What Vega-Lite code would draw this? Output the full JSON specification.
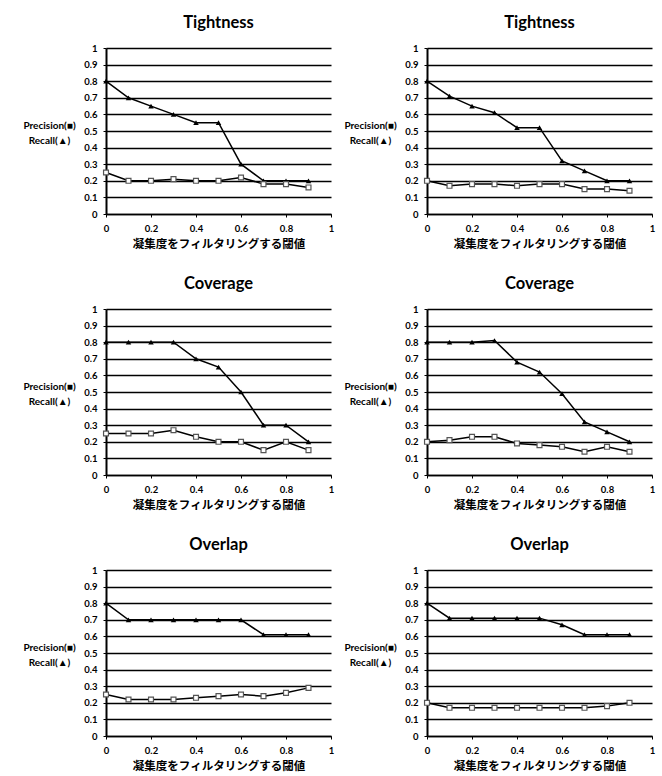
{
  "$schema": "https://vega.github.io/schema/vega-lite/v6.json",
  "background": "white",
  "padding": {"left": 22, "top": 14, "right": 5, "bottom": 5},
  "bounds": "flush",
  "columns": 2,
  "spacing": {"row": 95, "column": 96},
  "config": {
    "view": {"stroke": null},
    "font": "Lato",
    "title": {"font": "Lato", "fontSize": 16.5, "fontWeight": "bold", "color": "black", "offset": 12, "anchor": "middle"},
    "axis": {
      "labelFont": "Lato", "labelFontSize": 9.5, "labelFontWeight": "bold", "labelColor": "black",
      "domainColor": "black", "tickColor": "black", "tickSize": 3, "labelFlush": false,
      "titleColor": "black"
    },
    "axisX": {"grid": false, "domainWidth": 1.5, "labelPadding": 6, "titleFont": "Noto Sans CJK JP", "titleFontSize": 11.5, "titleFontWeight": "bold", "titlePadding": 6},
    "axisY": {"grid": true, "gridColor": "black", "gridWidth": 1.3, "domainWidth": 2, "labelPadding": 6, "titleFont": "Lato", "titleFontSize": 10, "titleFontWeight": "bold"}
  },
  "data": {"values": [
    {"p": "T1", "x": 0, "m": "Recall", "v": 0.8}, {"p": "T1", "x": 0.1, "m": "Recall", "v": 0.7}, {"p": "T1", "x": 0.2, "m": "Recall", "v": 0.65}, {"p": "T1", "x": 0.3, "m": "Recall", "v": 0.6}, {"p": "T1", "x": 0.4, "m": "Recall", "v": 0.55}, {"p": "T1", "x": 0.5, "m": "Recall", "v": 0.55}, {"p": "T1", "x": 0.6, "m": "Recall", "v": 0.3}, {"p": "T1", "x": 0.7, "m": "Recall", "v": 0.2}, {"p": "T1", "x": 0.8, "m": "Recall", "v": 0.2}, {"p": "T1", "x": 0.9, "m": "Recall", "v": 0.2},
    {"p": "T1", "x": 0, "m": "Precision", "v": 0.25}, {"p": "T1", "x": 0.1, "m": "Precision", "v": 0.2}, {"p": "T1", "x": 0.2, "m": "Precision", "v": 0.2}, {"p": "T1", "x": 0.3, "m": "Precision", "v": 0.21}, {"p": "T1", "x": 0.4, "m": "Precision", "v": 0.2}, {"p": "T1", "x": 0.5, "m": "Precision", "v": 0.2}, {"p": "T1", "x": 0.6, "m": "Precision", "v": 0.22}, {"p": "T1", "x": 0.7, "m": "Precision", "v": 0.18}, {"p": "T1", "x": 0.8, "m": "Precision", "v": 0.18}, {"p": "T1", "x": 0.9, "m": "Precision", "v": 0.16},
    {"p": "T2", "x": 0, "m": "Recall", "v": 0.8}, {"p": "T2", "x": 0.1, "m": "Recall", "v": 0.71}, {"p": "T2", "x": 0.2, "m": "Recall", "v": 0.65}, {"p": "T2", "x": 0.3, "m": "Recall", "v": 0.61}, {"p": "T2", "x": 0.4, "m": "Recall", "v": 0.52}, {"p": "T2", "x": 0.5, "m": "Recall", "v": 0.52}, {"p": "T2", "x": 0.6, "m": "Recall", "v": 0.32}, {"p": "T2", "x": 0.7, "m": "Recall", "v": 0.26}, {"p": "T2", "x": 0.8, "m": "Recall", "v": 0.2}, {"p": "T2", "x": 0.9, "m": "Recall", "v": 0.2},
    {"p": "T2", "x": 0, "m": "Precision", "v": 0.2}, {"p": "T2", "x": 0.1, "m": "Precision", "v": 0.17}, {"p": "T2", "x": 0.2, "m": "Precision", "v": 0.18}, {"p": "T2", "x": 0.3, "m": "Precision", "v": 0.18}, {"p": "T2", "x": 0.4, "m": "Precision", "v": 0.17}, {"p": "T2", "x": 0.5, "m": "Precision", "v": 0.18}, {"p": "T2", "x": 0.6, "m": "Precision", "v": 0.18}, {"p": "T2", "x": 0.7, "m": "Precision", "v": 0.15}, {"p": "T2", "x": 0.8, "m": "Precision", "v": 0.15}, {"p": "T2", "x": 0.9, "m": "Precision", "v": 0.14},
    {"p": "C1", "x": 0, "m": "Recall", "v": 0.8}, {"p": "C1", "x": 0.1, "m": "Recall", "v": 0.8}, {"p": "C1", "x": 0.2, "m": "Recall", "v": 0.8}, {"p": "C1", "x": 0.3, "m": "Recall", "v": 0.8}, {"p": "C1", "x": 0.4, "m": "Recall", "v": 0.7}, {"p": "C1", "x": 0.5, "m": "Recall", "v": 0.65}, {"p": "C1", "x": 0.6, "m": "Recall", "v": 0.5}, {"p": "C1", "x": 0.7, "m": "Recall", "v": 0.3}, {"p": "C1", "x": 0.8, "m": "Recall", "v": 0.3}, {"p": "C1", "x": 0.9, "m": "Recall", "v": 0.2},
    {"p": "C1", "x": 0, "m": "Precision", "v": 0.25}, {"p": "C1", "x": 0.1, "m": "Precision", "v": 0.25}, {"p": "C1", "x": 0.2, "m": "Precision", "v": 0.25}, {"p": "C1", "x": 0.3, "m": "Precision", "v": 0.27}, {"p": "C1", "x": 0.4, "m": "Precision", "v": 0.23}, {"p": "C1", "x": 0.5, "m": "Precision", "v": 0.2}, {"p": "C1", "x": 0.6, "m": "Precision", "v": 0.2}, {"p": "C1", "x": 0.7, "m": "Precision", "v": 0.15}, {"p": "C1", "x": 0.8, "m": "Precision", "v": 0.2}, {"p": "C1", "x": 0.9, "m": "Precision", "v": 0.15},
    {"p": "C2", "x": 0, "m": "Recall", "v": 0.8}, {"p": "C2", "x": 0.1, "m": "Recall", "v": 0.8}, {"p": "C2", "x": 0.2, "m": "Recall", "v": 0.8}, {"p": "C2", "x": 0.3, "m": "Recall", "v": 0.81}, {"p": "C2", "x": 0.4, "m": "Recall", "v": 0.68}, {"p": "C2", "x": 0.5, "m": "Recall", "v": 0.62}, {"p": "C2", "x": 0.6, "m": "Recall", "v": 0.49}, {"p": "C2", "x": 0.7, "m": "Recall", "v": 0.32}, {"p": "C2", "x": 0.8, "m": "Recall", "v": 0.26}, {"p": "C2", "x": 0.9, "m": "Recall", "v": 0.2},
    {"p": "C2", "x": 0, "m": "Precision", "v": 0.2}, {"p": "C2", "x": 0.1, "m": "Precision", "v": 0.21}, {"p": "C2", "x": 0.2, "m": "Precision", "v": 0.23}, {"p": "C2", "x": 0.3, "m": "Precision", "v": 0.23}, {"p": "C2", "x": 0.4, "m": "Precision", "v": 0.19}, {"p": "C2", "x": 0.5, "m": "Precision", "v": 0.18}, {"p": "C2", "x": 0.6, "m": "Precision", "v": 0.17}, {"p": "C2", "x": 0.7, "m": "Precision", "v": 0.14}, {"p": "C2", "x": 0.8, "m": "Precision", "v": 0.17}, {"p": "C2", "x": 0.9, "m": "Precision", "v": 0.14},
    {"p": "O1", "x": 0, "m": "Recall", "v": 0.8}, {"p": "O1", "x": 0.1, "m": "Recall", "v": 0.7}, {"p": "O1", "x": 0.2, "m": "Recall", "v": 0.7}, {"p": "O1", "x": 0.3, "m": "Recall", "v": 0.7}, {"p": "O1", "x": 0.4, "m": "Recall", "v": 0.7}, {"p": "O1", "x": 0.5, "m": "Recall", "v": 0.7}, {"p": "O1", "x": 0.6, "m": "Recall", "v": 0.7}, {"p": "O1", "x": 0.7, "m": "Recall", "v": 0.61}, {"p": "O1", "x": 0.8, "m": "Recall", "v": 0.61}, {"p": "O1", "x": 0.9, "m": "Recall", "v": 0.61},
    {"p": "O1", "x": 0, "m": "Precision", "v": 0.25}, {"p": "O1", "x": 0.1, "m": "Precision", "v": 0.22}, {"p": "O1", "x": 0.2, "m": "Precision", "v": 0.22}, {"p": "O1", "x": 0.3, "m": "Precision", "v": 0.22}, {"p": "O1", "x": 0.4, "m": "Precision", "v": 0.23}, {"p": "O1", "x": 0.5, "m": "Precision", "v": 0.24}, {"p": "O1", "x": 0.6, "m": "Precision", "v": 0.25}, {"p": "O1", "x": 0.7, "m": "Precision", "v": 0.24}, {"p": "O1", "x": 0.8, "m": "Precision", "v": 0.26}, {"p": "O1", "x": 0.9, "m": "Precision", "v": 0.29},
    {"p": "O2", "x": 0, "m": "Recall", "v": 0.8}, {"p": "O2", "x": 0.1, "m": "Recall", "v": 0.71}, {"p": "O2", "x": 0.2, "m": "Recall", "v": 0.71}, {"p": "O2", "x": 0.3, "m": "Recall", "v": 0.71}, {"p": "O2", "x": 0.4, "m": "Recall", "v": 0.71}, {"p": "O2", "x": 0.5, "m": "Recall", "v": 0.71}, {"p": "O2", "x": 0.6, "m": "Recall", "v": 0.67}, {"p": "O2", "x": 0.7, "m": "Recall", "v": 0.61}, {"p": "O2", "x": 0.8, "m": "Recall", "v": 0.61}, {"p": "O2", "x": 0.9, "m": "Recall", "v": 0.61},
    {"p": "O2", "x": 0, "m": "Precision", "v": 0.2}, {"p": "O2", "x": 0.1, "m": "Precision", "v": 0.17}, {"p": "O2", "x": 0.2, "m": "Precision", "v": 0.17}, {"p": "O2", "x": 0.3, "m": "Precision", "v": 0.17}, {"p": "O2", "x": 0.4, "m": "Precision", "v": 0.17}, {"p": "O2", "x": 0.5, "m": "Precision", "v": 0.17}, {"p": "O2", "x": 0.6, "m": "Precision", "v": 0.17}, {"p": "O2", "x": 0.7, "m": "Precision", "v": 0.17}, {"p": "O2", "x": 0.8, "m": "Precision", "v": 0.18}, {"p": "O2", "x": 0.9, "m": "Precision", "v": 0.2}
  ]},
  "concat": [
    {"title": "Tightness", "width": 225, "height": 166, "transform": [{"filter": "datum.p === 'T1'"}],
     "encoding": {
       "x": {"field": "x", "type": "quantitative", "scale": {"domain": [0, 1]}, "axis": {"values": [0, 0.2, 0.4, 0.6, 0.8, 1], "format": "~g", "title": "凝集度をフィルタリングする閾値"}},
       "y": {"field": "v", "type": "quantitative", "scale": {"domain": [0, 1]}, "axis": {"values": [0, 0.1, 0.2, 0.3, 0.4, 0.5, 0.6, 0.7, 0.8, 0.9, 1], "format": "~g", "title": ["Precision(■)", "Recall(▲)"], "titleAngle": 0, "titleAlign": "center", "titleBaseline": "middle", "titleX": -57, "titleY": 77, "titleLineHeight": 15}}
     },
     "layer": [
       {"mark": {"type": "line", "color": "black", "strokeWidth": 1.5}, "encoding": {"detail": {"field": "m"}}},
       {"transform": [{"filter": "datum.m === 'Recall'"}], "mark": {"type": "point", "shape": "triangle-up", "filled": true, "color": "black", "size": 30, "opacity": 1}},
       {"transform": [{"filter": "datum.m === 'Precision'"}], "mark": {"type": "point", "shape": "square", "filled": false, "fill": "white", "stroke": "#555555", "strokeWidth": 1.2, "size": 24, "opacity": 1}}
     ]},
    {"title": "Tightness", "width": 225, "height": 166, "transform": [{"filter": "datum.p === 'T2'"}],
     "encoding": {
       "x": {"field": "x", "type": "quantitative", "scale": {"domain": [0, 1]}, "axis": {"values": [0, 0.2, 0.4, 0.6, 0.8, 1], "format": "~g", "title": "凝集度をフィルタリングする閾値"}},
       "y": {"field": "v", "type": "quantitative", "scale": {"domain": [0, 1]}, "axis": {"values": [0, 0.1, 0.2, 0.3, 0.4, 0.5, 0.6, 0.7, 0.8, 0.9, 1], "format": "~g", "title": ["Precision(■)", "Recall(▲)"], "titleAngle": 0, "titleAlign": "center", "titleBaseline": "middle", "titleX": -57, "titleY": 77, "titleLineHeight": 15}}
     },
     "layer": [
       {"mark": {"type": "line", "color": "black", "strokeWidth": 1.5}, "encoding": {"detail": {"field": "m"}}},
       {"transform": [{"filter": "datum.m === 'Recall'"}], "mark": {"type": "point", "shape": "triangle-up", "filled": true, "color": "black", "size": 30, "opacity": 1}},
       {"transform": [{"filter": "datum.m === 'Precision'"}], "mark": {"type": "point", "shape": "square", "filled": false, "fill": "white", "stroke": "#555555", "strokeWidth": 1.2, "size": 24, "opacity": 1}}
     ]},
    {"title": "Coverage", "width": 225, "height": 166, "transform": [{"filter": "datum.p === 'C1'"}],
     "encoding": {
       "x": {"field": "x", "type": "quantitative", "scale": {"domain": [0, 1]}, "axis": {"values": [0, 0.2, 0.4, 0.6, 0.8, 1], "format": "~g", "title": "凝集度をフィルタリングする閾値"}},
       "y": {"field": "v", "type": "quantitative", "scale": {"domain": [0, 1]}, "axis": {"values": [0, 0.1, 0.2, 0.3, 0.4, 0.5, 0.6, 0.7, 0.8, 0.9, 1], "format": "~g", "title": ["Precision(■)", "Recall(▲)"], "titleAngle": 0, "titleAlign": "center", "titleBaseline": "middle", "titleX": -57, "titleY": 77, "titleLineHeight": 15}}
     },
     "layer": [
       {"mark": {"type": "line", "color": "black", "strokeWidth": 1.5}, "encoding": {"detail": {"field": "m"}}},
       {"transform": [{"filter": "datum.m === 'Recall'"}], "mark": {"type": "point", "shape": "triangle-up", "filled": true, "color": "black", "size": 30, "opacity": 1}},
       {"transform": [{"filter": "datum.m === 'Precision'"}], "mark": {"type": "point", "shape": "square", "filled": false, "fill": "white", "stroke": "#555555", "strokeWidth": 1.2, "size": 24, "opacity": 1}}
     ]},
    {"title": "Coverage", "width": 225, "height": 166, "transform": [{"filter": "datum.p === 'C2'"}],
     "encoding": {
       "x": {"field": "x", "type": "quantitative", "scale": {"domain": [0, 1]}, "axis": {"values": [0, 0.2, 0.4, 0.6, 0.8, 1], "format": "~g", "title": "凝集度をフィルタリングする閾値"}},
       "y": {"field": "v", "type": "quantitative", "scale": {"domain": [0, 1]}, "axis": {"values": [0, 0.1, 0.2, 0.3, 0.4, 0.5, 0.6, 0.7, 0.8, 0.9, 1], "format": "~g", "title": ["Precision(■)", "Recall(▲)"], "titleAngle": 0, "titleAlign": "center", "titleBaseline": "middle", "titleX": -57, "titleY": 77, "titleLineHeight": 15}}
     },
     "layer": [
       {"mark": {"type": "line", "color": "black", "strokeWidth": 1.5}, "encoding": {"detail": {"field": "m"}}},
       {"transform": [{"filter": "datum.m === 'Recall'"}], "mark": {"type": "point", "shape": "triangle-up", "filled": true, "color": "black", "size": 30, "opacity": 1}},
       {"transform": [{"filter": "datum.m === 'Precision'"}], "mark": {"type": "point", "shape": "square", "filled": false, "fill": "white", "stroke": "#555555", "strokeWidth": 1.2, "size": 24, "opacity": 1}}
     ]},
    {"title": "Overlap", "width": 225, "height": 166, "transform": [{"filter": "datum.p === 'O1'"}],
     "encoding": {
       "x": {"field": "x", "type": "quantitative", "scale": {"domain": [0, 1]}, "axis": {"values": [0, 0.2, 0.4, 0.6, 0.8, 1], "format": "~g", "title": "凝集度をフィルタリングする閾値"}},
       "y": {"field": "v", "type": "quantitative", "scale": {"domain": [0, 1]}, "axis": {"values": [0, 0.1, 0.2, 0.3, 0.4, 0.5, 0.6, 0.7, 0.8, 0.9, 1], "format": "~g", "title": ["Precision(■)", "Recall(▲)"], "titleAngle": 0, "titleAlign": "center", "titleBaseline": "middle", "titleX": -57, "titleY": 77, "titleLineHeight": 15}}
     },
     "layer": [
       {"mark": {"type": "line", "color": "black", "strokeWidth": 1.5}, "encoding": {"detail": {"field": "m"}}},
       {"transform": [{"filter": "datum.m === 'Recall'"}], "mark": {"type": "point", "shape": "triangle-up", "filled": true, "color": "black", "size": 30, "opacity": 1}},
       {"transform": [{"filter": "datum.m === 'Precision'"}], "mark": {"type": "point", "shape": "square", "filled": false, "fill": "white", "stroke": "#555555", "strokeWidth": 1.2, "size": 24, "opacity": 1}}
     ]},
    {"title": "Overlap", "width": 225, "height": 166, "transform": [{"filter": "datum.p === 'O2'"}],
     "encoding": {
       "x": {"field": "x", "type": "quantitative", "scale": {"domain": [0, 1]}, "axis": {"values": [0, 0.2, 0.4, 0.6, 0.8, 1], "format": "~g", "title": "凝集度をフィルタリングする閾値"}},
       "y": {"field": "v", "type": "quantitative", "scale": {"domain": [0, 1]}, "axis": {"values": [0, 0.1, 0.2, 0.3, 0.4, 0.5, 0.6, 0.7, 0.8, 0.9, 1], "format": "~g", "title": ["Precision(■)", "Recall(▲)"], "titleAngle": 0, "titleAlign": "center", "titleBaseline": "middle", "titleX": -57, "titleY": 77, "titleLineHeight": 15}}
     },
     "layer": [
       {"mark": {"type": "line", "color": "black", "strokeWidth": 1.5}, "encoding": {"detail": {"field": "m"}}},
       {"transform": [{"filter": "datum.m === 'Recall'"}], "mark": {"type": "point", "shape": "triangle-up", "filled": true, "color": "black", "size": 30, "opacity": 1}},
       {"transform": [{"filter": "datum.m === 'Precision'"}], "mark": {"type": "point", "shape": "square", "filled": false, "fill": "white", "stroke": "#555555", "strokeWidth": 1.2, "size": 24, "opacity": 1}}
     ]}
  ]
}
